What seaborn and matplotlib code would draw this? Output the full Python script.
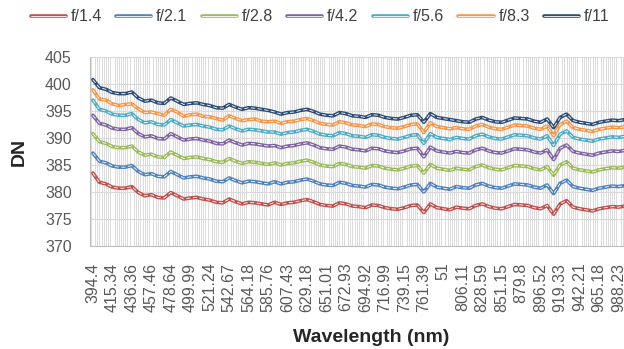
import matplotlib
matplotlib.use('Agg')
import matplotlib.pyplot as plt
from matplotlib.lines import Line2D
from matplotlib.legend_handler import HandlerTuple
from matplotlib.ticker import MultipleLocator
import seaborn as sns
import numpy as np

sns.set_style('white')
plt.rcParams['font.family'] = ['Liberation Sans', 'DejaVu Sans']

# x축 눈금 레이블 (9개 파장 카테고리마다 하나)
tick_labels = ['394.4', '415.34', '436.36', '457.46', '478.64', '499.99', '521.24',
               '542.67', '564.18', '585.76', '607.43', '629.18', '651.01', '672.93',
               '694.92', '716.99', '739.15', '761.39', '51', '806.11', '828.59',
               '851.15', '879.8', '896.52', '919.33', '942.21', '965.18', '988.23']

series_names = ['f/1.4', 'f/2.1', 'f/2.8', 'f/4.2', 'f/5.6', 'f/8.3', 'f/11']

# 그림에서 읽은 값 (3개 카테고리 간격)
f1_4 = [383.5, 381.8, 381.5, 380.9, 380.7, 380.7, 381.0, 379.9, 379.3, 379.5,
        379.0, 378.9, 379.9, 379.3, 378.7, 378.9, 379.0, 378.7, 378.5, 378.1,
        378.0, 378.7, 378.2, 377.8, 378.1, 378.0, 377.8, 377.6, 378.1, 377.7,
        378.0, 378.1, 378.4, 378.6, 378.2, 377.7, 377.5, 377.4, 378.0, 377.8,
        377.4, 377.3, 377.1, 377.6, 377.5, 377.1, 376.9, 376.8, 377.1, 377.5,
        377.6, 376.2, 377.8, 377.1, 376.9, 376.7, 377.2, 377.0, 376.9, 377.5,
        377.8, 377.3, 377.0, 376.9, 377.3, 377.7, 377.6, 377.5, 377.1, 376.9,
        377.5, 375.9, 377.8, 378.4, 377.2, 376.9, 376.7, 376.5, 376.9, 377.1,
        377.3, 377.2, 377.4]
f2_1 = [387.2, 385.7, 385.4, 384.8, 384.6, 384.6, 384.9, 383.8, 383.2, 383.4,
        382.9, 382.8, 383.8, 383.2, 382.6, 382.8, 382.9, 382.6, 382.4, 382.0,
        381.9, 382.6, 382.1, 381.7, 382.0, 381.9, 381.7, 381.5, 381.9, 381.5,
        381.8, 381.9, 382.2, 382.4, 382.0, 381.5, 381.3, 381.2, 381.8, 381.6,
        381.2, 381.1, 380.9, 381.4, 381.3, 380.9, 380.7, 380.6, 380.9, 381.3,
        381.4, 380.0, 381.6, 380.9, 380.7, 380.5, 381.0, 380.8, 380.7, 381.3,
        381.6, 381.1, 380.8, 380.7, 381.1, 381.5, 381.4, 381.3, 380.9, 380.7,
        381.3, 379.7, 381.6, 382.2, 381.0, 380.7, 380.5, 380.3, 380.7, 380.9,
        381.1, 381.0, 381.2]
f2_8 = [390.8, 389.3, 389.0, 388.4, 388.2, 388.2, 388.5, 387.4, 386.8, 387.0,
        386.5, 386.4, 387.4, 386.8, 386.2, 386.4, 386.5, 386.2, 386.0, 385.6,
        385.5, 386.2, 385.7, 385.3, 385.6, 385.5, 385.3, 385.1, 385.4, 385.0,
        385.3, 385.4, 385.7, 385.9, 385.5, 385.0, 384.8, 384.7, 385.3, 385.1,
        384.7, 384.6, 384.4, 384.9, 384.8, 384.4, 384.2, 384.1, 384.4, 384.8,
        384.9, 383.5, 385.1, 384.4, 384.2, 384.0, 384.4, 384.2, 384.1, 384.7,
        385.0, 384.5, 384.2, 384.1, 384.5, 384.9, 384.8, 384.7, 384.3, 384.1,
        384.7, 383.1, 385.0, 385.6, 384.4, 384.1, 383.9, 383.7, 384.1, 384.3,
        384.5, 384.4, 384.6]
f4_2 = [394.2, 392.7, 392.4, 391.8, 391.6, 391.6, 391.9, 390.8, 390.2, 390.4,
        389.9, 389.8, 390.8, 390.2, 389.6, 389.8, 389.9, 389.6, 389.4, 389.0,
        388.9, 389.6, 389.1, 388.7, 389.0, 388.9, 388.7, 388.5, 388.6, 388.2,
        388.5, 388.6, 388.9, 389.1, 388.7, 388.2, 388.0, 387.9, 388.5, 388.3,
        387.9, 387.8, 387.6, 388.1, 388.0, 387.6, 387.4, 387.3, 387.6, 388.0,
        388.1, 386.5, 388.3, 387.6, 387.4, 387.2, 387.5, 387.3, 387.2, 387.8,
        388.1, 387.6, 387.3, 387.2, 387.6, 388.0, 387.9, 387.8, 387.4, 387.2,
        387.8, 386.0, 388.1, 388.7, 387.5, 387.2, 387.0, 386.8, 387.2, 387.4,
        387.6, 387.5, 387.7]
f5_6 = [397.0, 395.3, 395.0, 394.4, 394.2, 394.2, 394.5, 393.4, 392.8, 393.0,
        392.5, 392.4, 393.4, 392.8, 392.2, 392.4, 392.5, 392.2, 392.0, 391.6,
        391.5, 392.2, 391.7, 391.3, 391.6, 391.5, 391.3, 391.1, 391.1, 390.7,
        391.0, 391.1, 391.4, 391.6, 391.2, 390.7, 390.5, 390.4, 391.0, 390.8,
        390.4, 390.3, 390.1, 390.6, 390.5, 390.1, 389.9, 389.8, 390.1, 390.5,
        390.6, 389.0, 390.8, 390.1, 389.9, 389.7, 390.1, 389.9, 389.8, 390.4,
        390.7, 390.2, 389.9, 389.8, 390.2, 390.6, 390.5, 390.4, 390.0, 389.8,
        390.4, 388.6, 390.7, 391.3, 390.1, 389.8, 389.6, 389.4, 389.8, 390.0,
        390.2, 390.1, 390.3]
f8_3 = [398.9, 397.2, 397.0, 396.3, 396.0, 396.2, 396.3, 395.4, 394.7, 394.8,
        394.5, 394.2, 395.3, 394.8, 394.0, 394.3, 394.4, 394.0, 393.9, 393.6,
        393.3, 394.1, 393.6, 393.2, 393.4, 393.5, 393.1, 393.0, 393.1, 392.7,
        393.0, 393.1, 393.4, 393.6, 393.2, 392.7, 392.5, 392.4, 393.0, 392.8,
        392.4, 392.3, 392.1, 392.6, 392.5, 392.1, 391.9, 391.8, 392.1, 392.5,
        392.6, 391.0, 392.8, 392.1, 391.9, 391.7, 391.9, 391.7, 391.6, 392.2,
        392.5, 392.0, 391.7, 391.6, 392.0, 392.4, 392.3, 392.2, 391.8, 391.6,
        392.2, 390.4, 392.5, 393.1, 391.9, 391.6, 391.4, 391.2, 391.6, 391.8,
        392.0, 391.9, 392.1]
f11 = [400.8, 399.3, 399.0, 398.4, 398.2, 398.2, 398.5, 397.4, 396.8, 397.0,
       396.5, 396.4, 397.4, 396.8, 396.2, 396.4, 396.5, 396.2, 396.0, 395.6,
       395.5, 396.2, 395.7, 395.3, 395.6, 395.5, 395.3, 395.1, 394.8, 394.4,
       394.7, 394.8, 395.1, 395.3, 394.9, 394.4, 394.2, 394.1, 394.7, 394.5,
       394.1, 394.0, 393.8, 394.3, 394.2, 393.8, 393.6, 393.5, 393.8, 394.2,
       394.3, 392.9, 394.5, 393.8, 393.6, 393.4, 393.2, 393.0, 392.9, 393.5,
       393.8, 393.3, 393.0, 392.9, 393.3, 393.7, 393.6, 393.5, 393.1, 392.9,
       393.5, 391.9, 393.8, 394.4, 393.2, 392.9, 392.7, 392.5, 392.9, 393.1,
       393.3, 393.2, 393.4]

series_values = [f1_4, f2_1, f2_8, f4_2, f5_6, f8_3, f11]
colors = ['#C0504D', '#4F81BD', '#9BBB59', '#8064A2', '#4BACC6', '#F79646', '#2C4D75']

fig = plt.figure(figsize=(6.24, 3.49), dpi=100)
ax = fig.add_axes([0.144, 0.295, 0.902, 0.542])

x = np.arange(len(f11)) * 3   # 카테고리 위치
handles = []
for name, vals, c in zip(series_names, series_values, colors):
    sns.lineplot(x=x, y=vals, color=c, linewidth=2.6, ax=ax, legend=False)
    sns.lineplot(x=x, y=vals, color='white', linewidth=0.6, linestyle=(0, (5, 3)),
                 ax=ax, legend=False)
    handles.append((Line2D([], [], color=c, linewidth=2.6),
                    Line2D([], [], color='white', linewidth=0.6)))

ax.set_ylim(370, 405)
ax.set_xlim(-1.4, 258.8)
ax.set_yticks(np.arange(370, 406, 5))
ax.set_xticks(np.arange(len(tick_labels)) * 9)
ax.set_xticklabels(tick_labels, rotation=90, va='top')
ax.xaxis.set_minor_locator(MultipleLocator(1))
ax.grid(which='minor', axis='x', color='#DCDCDC', linewidth=0.7)
ax.grid(which='major', axis='y', color='#D9D9D9', linewidth=0.8)
ax.set_axisbelow(True)
ax.tick_params(axis='both', which='both', length=0, colors='#595959')
ax.tick_params(axis='x', labelsize=11.5, pad=12)
ax.tick_params(axis='y', labelsize=11.5, pad=13)

for side in ['top', 'right']:
    ax.spines[side].set_visible(False)
ax.spines['left'].set_color('#BFBFBF')
ax.spines['bottom'].set_color('#BFBFBF')

# 축 제목 (그림 좌표로 배치)
fig.text(371 / 624, 1 - 338 / 349, 'Wavelength (nm)', fontsize=14, fontweight='bold',
         ha='center', va='center')
fig.text(19 / 624, 1 - 152 / 349, 'DN', fontsize=14, fontweight='bold',
         ha='center', va='center', rotation=90)

fig.legend(handles, series_names, handler_map={tuple: HandlerTuple(ndivide=1)},
           loc='center', bbox_to_anchor=(0.513, 0.952), ncol=7, frameon=False,
           fontsize=11.5, handlelength=2.2, columnspacing=0.9, handletextpad=0.3,
           labelcolor='#404040')

plt.savefig('out.png', dpi=100)
